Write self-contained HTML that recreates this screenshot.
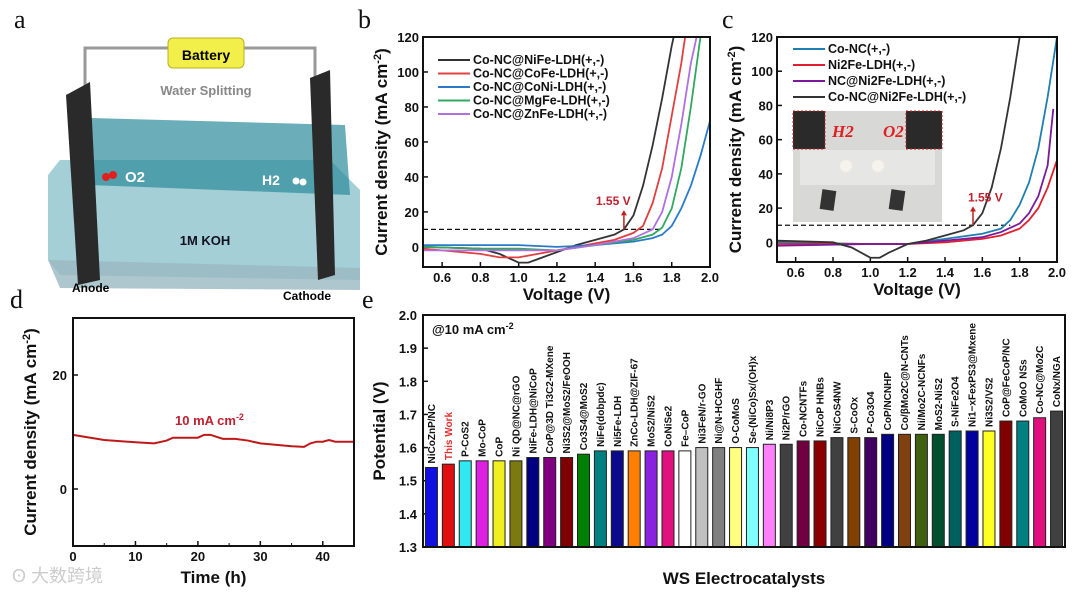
<!DOCTYPE html>
<html><head><meta charset="utf-8"><style>
body{margin:0;background:#fff;width:1080px;height:593px;overflow:hidden}
svg{display:block;font-family:"Liberation Sans",Arial,sans-serif}
.tk{font-size:13px;font-weight:bold;fill:#111}
.at{font-size:17px;font-weight:bold;fill:#111}
.pl{font-family:"Liberation Serif",serif;font-size:26px;fill:#111}
.lg{font-size:12.5px;font-weight:bold;fill:#111}
.bl{font-size:10px;font-weight:bold;fill:#111}
</style></head><body>
<svg id="fig" width="1080" height="593">
<g>
<text class="pl" x="14" y="28">a</text>
<polyline points="85,90 85,48 315,48 315,90" fill="none" stroke="#999" stroke-width="3"/>
<rect x="168" y="38" width="76" height="30" rx="5" fill="#f2ee4a" stroke="#b8b020"/>
<text x="206" y="60" text-anchor="middle" style="font-size:14px;font-weight:bold">Battery</text>
<text x="206" y="95" text-anchor="middle" style="font-size:13px;font-weight:bold;fill:#888">Water Splitting</text>
<polygon points="60,160 330,160 360,190 360,280 60,275 48,260 48,175" fill="#5aa8b4" opacity="0.55"/>
<polygon points="90,118 345,125 350,195 90,185" fill="#2c8a9a" opacity="0.7"/>
<polygon points="48,260 360,268 360,290 60,288" fill="#9ab8c0" opacity="0.8"/>
<polygon points="66,95 90,82 100,280 78,285" fill="#2a2a2a"/>
<polygon points="310,78 330,70 335,275 318,280" fill="#2a2a2a"/>
<circle cx="106" cy="177" r="4" fill="#e02020"/><circle cx="113" cy="175" r="4" fill="#e02020"/>
<text x="125" y="182" style="font-size:15px;font-weight:bold;fill:#fff">O2</text>
<text x="262" y="185" style="font-size:14px;font-weight:bold;fill:#fff">H2</text>
<circle cx="296" cy="181" r="3.5" fill="#fff"/><circle cx="303" cy="182" r="3.5" fill="#fff"/>
<text x="205" y="245" text-anchor="middle" style="font-size:13px;font-weight:bold;fill:#112">1M KOH</text>
<text x="72" y="292" style="font-size:12px;font-weight:bold">Anode</text>
<text x="283" y="300" style="font-size:12px;font-weight:bold">Cathode</text>
</g>
<text class="pl" x="10" y="308">d</text>
<text class="pl" x="358" y="28">b</text>
<text class="pl" x="722" y="28">c</text>
<text class="pl" x="362" y="308">e</text>
<g id="pb"></g><g id="pc"></g><g id="pd"></g><g id="pe"></g>
<text x="12" y="582" style="font-size:18px;fill:#ccc;font-family:'Liberation Sans','Noto Sans CJK SC',sans-serif">ʘ 大数跨境</text>
</svg>
<script>
const NS="http://www.w3.org/2000/svg";
const bNames=["Co-NC@NiFe-LDH(+,-)","Co-NC@CoFe-LDH(+,-)","Co-NC@CoNi-LDH(+,-)","Co-NC@MgFe-LDH(+,-)","Co-NC@ZnFe-LDH(+,-)"];
const bColors=["#333","#e04040","#2a7ac8","#30a860","#b070e0"];
const bV=[[0.5,0.8,0.9,1.0,1.05,1.1,1.2,1.3,1.4,1.5,1.55,1.6,1.65,1.7,1.75,1.8,1.81],
[0.5,0.8,0.9,1.0,1.1,1.2,1.3,1.4,1.5,1.6,1.65,1.7,1.75,1.8,1.85,1.87],
[0.5,0.8,1.0,1.2,1.4,1.6,1.7,1.75,1.8,1.85,1.9,1.95,2.0],
[0.5,0.8,1.0,1.2,1.4,1.6,1.7,1.75,1.8,1.85,1.9,1.95],
[0.5,0.8,1.0,1.2,1.4,1.6,1.7,1.75,1.8,1.85,1.9,1.93]];
const bJ=[[0,-1,-4,-9,-9,-7,-3,1,4,7,10,18,35,58,85,115,120],
[-1,-4,-6,-6,-4,-2,0,2,4,8,12,25,45,75,105,120],
[1,1,1,0,1,3,5,7,12,22,35,52,72],
[0,-1,-1,-2,1,4,7,11,22,45,80,120],
[-2,-2,-2,-2,1,5,10,20,40,70,105,120]];
const cNames=["Co-NC(+,-)","Ni2Fe-LDH(+,-)","NC@Ni2Fe-LDH(+,-)","Co-NC@Ni2Fe-LDH(+,-)"];
const cColors=["#1e7fb0","#e02030","#7a1a9a","#333"];
const cV=[[0.5,1.0,1.2,1.4,1.6,1.7,1.75,1.8,1.85,1.9,1.95,2.0],
[0.5,1.0,1.2,1.4,1.6,1.7,1.8,1.85,1.9,1.95,2.0],
[0.5,1.0,1.2,1.4,1.6,1.7,1.8,1.85,1.9,1.95,1.98],
[0.5,0.8,0.9,1.0,1.05,1.1,1.2,1.3,1.4,1.5,1.55,1.6,1.65,1.7,1.75,1.8]];
const cJ=[[0,-1,-1,2,5,8,13,22,35,55,85,120],
[-1,-1,-1,0,2,4,8,13,20,32,48],
[-2,-1,-1,1,3,6,11,17,27,45,78],
[1,0,-3,-9,-9,-6,-1,1,4,7,10,17,32,55,85,120]];
const vTicks=[0.6,0.8,1.0,1.2,1.4,1.6,1.8,2.0];
const jTicks=[0,20,40,60,80,100,120];
const dT=[0,5,10,13,15,16,20,21,22,24,26,28,30,35,37,38,39,40,41,42,45];
const dJ=[9.5,8.6,8.2,8.0,8.5,9.0,9.0,9.5,9.5,8.8,8.8,8.5,8.0,7.5,7.4,8.0,8.3,8.3,8.6,8.3,8.3];
const dXTicks=[0,10,20,30,40];
const dYTicks=[0,20];
const eNames=["NiCoZnP/NC","This Work","P-CoS2","Mo-CoP","CoP","Ni QD@NC@rGO","NiFe-LDH@NiCoP","CoP@3D Ti3C2-MXene","Ni3S2@MoS2/FeOOH","Co3S4@MoS2","NiFe(dobpdc)","Ni5Fe-LDH","ZnCo-LDH@ZIF-67","MoS2/NiS2","CoNiSe2","Fe–CoP","Ni3FeN/r-GO","Ni@N-HCGHF","O-CoMoS","Se-(NiCo)Sx/(OH)x","Ni/Ni8P3","Ni2P/rGO","Co-NCNTFs","NiCoP HNBs","NiCoS4NW","S-CoOx","P-Co3O4","CoP/NCNHP","Co/βMo2C@N-CNTs","Ni/Mo2C-NCNFs","MoS2-NiS2","S-NiFe2O4","Ni1−xFexPS3@Mxene","Ni3S2/VS2","CoP@FeCoP/NC","CoMoO NSs","Co-NC@Mo2C","CoNx/NGA"];
const eVals=[1.54,1.55,1.56,1.56,1.56,1.56,1.57,1.57,1.57,1.58,1.59,1.59,1.59,1.59,1.59,1.59,1.60,1.60,1.60,1.60,1.61,1.61,1.62,1.62,1.63,1.63,1.63,1.64,1.64,1.64,1.64,1.65,1.65,1.65,1.68,1.68,1.69,1.71];
const eColors=["#1010e0","#e01010","#30e8f0","#e020e0","#f0f020","#7a7a10","#000080","#800080","#800000","#008000","#008080","#0a0a8a","#ff8000","#8a20e0","#e0107f","#ffffff","#c0c0c0","#808080","#ffff80","#80ffff","#ff80ff","#404040","#700040","#8b0000","#404040","#804000","#400060","#000080","#804010","#406010","#005030","#006060","#0000a0","#ffff20","#800000","#008080","#e0107f","#404040"];
const eTicks=[1.3,1.4,1.5,1.6,1.7,1.8,1.9,2.0];

function el(p,tag,a,txt){const e=document.createElementNS(NS,tag);for(const k in a)e.setAttribute(k,a[k]);if(txt!==undefined)e.textContent=txt;p.appendChild(e);return e;}
function lin(d0,d1,r0,r1){return v=>r0+(v-d0)/(d1-d0)*(r1-r0);}
function frame(g,x0,x1,y0,y1){
  const r=el(g,'rect',{x:x0,y:y0,width:x1-x0,height:y1-y0,fill:'none',stroke:'#111','stroke-width':2});
  
  
}
function ivPanel(id,x0,x1,y0,y1,ymin,names,colors,V,J,legX,legY,legDy,arrowLabelX,inset){
  const g=document.getElementById(id);
  const X=lin(0.5,2.0,x0,x1),Y=lin(ymin,120,y1,y0);
  if(inset)inset(g);
  vTicks.forEach(t=>{el(g,'line',{x1:X(t),x2:X(t),y1:y1,y2:y1-5,stroke:'#111','stroke-width':1.5});
    const tx=el(g,'text',{x:X(t),y:y1+15,'text-anchor':'middle',class:'tk'},t.toFixed(1));
    
    });
  jTicks.forEach(t=>{el(g,'line',{x1:x0,x2:x0+5,y1:Y(t),y2:Y(t),stroke:'#111','stroke-width':1.5});
    const tx=el(g,'text',{x:x0-4,y:Y(t)+5,'text-anchor':'end',class:'tk'},t);
    
    });
  const cp=el(g,'clipPath',{id:id+'clip'});el(cp,'rect',{x:x0,y:y0,width:x1-x0,height:y1-y0});
  el(g,'line',{x1:x0,x2:X(1.75),y1:Y(10),y2:Y(10),stroke:'#111','stroke-dasharray':'5,3','stroke-width':1.2});
  names.forEach((n,i)=>{
    const p=el(g,'polyline',{points:V[i].map((v,k)=>X(v)+','+Y(J[i][k])).join(' '),fill:'none',stroke:colors[i],'stroke-width':1.8,'clip-path':'url(#'+id+'clip)'});
    
    
    const ly=legY+i*legDy;
    el(g,'line',{x1:legX,x2:legX+32,y1:ly-4,y2:ly-4,stroke:colors[i],'stroke-width':2});
    const lt=el(g,'text',{x:legX+35,y:ly,class:'lg'},n);
    
    
  });
  el(g,'line',{x1:X(1.55),x2:X(1.55),y1:Y(10),y2:Y(18),stroke:'#c02020','stroke-width':1.5});
  el(g,'polygon',{points:`${X(1.55)-3},${Y(18)} ${X(1.55)+3},${Y(18)} ${X(1.55)},${Y(21)}`,fill:'#c02020'});
  const a=el(g,'text',{x:arrowLabelX,y:Y(24),style:'font-size:12px;font-weight:bold;fill:#c02030'},'1.55 V');
  
  
  frame(g,x0,x1,y0,y1);
  const xt=el(g,'text',{x:(x0+x1)/2,y:y1+33,'text-anchor':'middle',class:'at'},'Voltage (V)');
  
  
  const yt=el(g,'text',{transform:`translate(${x0-36},${(y0+y1)/2}) rotate(-90)`,'text-anchor':'middle',class:'at'});
  yt.innerHTML='Current density (mA cm<tspan dy="-6" style="font-size:11px">-2</tspan><tspan dy="6">)</tspan>';
  
  
  return g;
}
function cInset(g){
  const ins=el(g,'g',{});
  
  
  el(ins,'rect',{x:793,y:111,width:149,height:111,fill:'#d8d8d6'});
  el(ins,'rect',{x:800,y:150,width:135,height:35,fill:'#e6e6e4'});
  el(ins,'circle',{cx:846,cy:166,r:6,fill:'#f4f4ec'});el(ins,'circle',{cx:878,cy:166,r:6,fill:'#f4f4ec'});
  el(ins,'rect',{x:793,y:111,width:32,height:38,fill:'#2a2a2a',stroke:'#d02020','stroke-dasharray':'2,2'});
  el(ins,'rect',{x:906,y:111,width:36,height:38,fill:'#2a2a2a',stroke:'#d02020','stroke-dasharray':'2,2'});
  el(ins,'text',{x:832,y:137,style:'font-family:Liberation Serif;font-style:italic;font-weight:bold;font-size:17px;fill:#e02020'},'H2');
  el(ins,'text',{x:883,y:137,style:'font-family:Liberation Serif;font-style:italic;font-weight:bold;font-size:17px;fill:#e02020'},'O2');
  el(ins,'rect',{x:821,y:190,width:14,height:20,fill:'#333',transform:'rotate(8 828 200)'});
  el(ins,'rect',{x:890,y:190,width:14,height:20,fill:'#333',transform:'rotate(8 897 200)'});
}
ivPanel('pb',423,710,37,267,-11.5,bNames,bColors,bV,bJ,438,64,13.5,(423+(1.55-0.5)/1.5*287)-28,null);
ivPanel('pc',777,1057,37,262,-11.5,cNames,cColors,cV,cJ,793,53,16,(777+(1.55-0.5)/1.5*280)-5,cInset);
(function(){
  const g=document.getElementById('pd');
  const x0=73,x1=354,y0=318,y1=546;
  const X=lin(0,45,x0,x1),Y=lin(-10,30,y1,y0);
  dXTicks.forEach(t=>{el(g,'line',{x1:X(t),x2:X(t),y1:y1,y2:y1-5,stroke:'#111','stroke-width':1.5});
    const tx=el(g,'text',{x:X(t),y:y1+15,'text-anchor':'middle',class:'tk'},t);
    
    });
  [5,15,25,35].forEach(t=>el(g,'line',{x1:X(t),x2:X(t),y1:y1,y2:y1-3,stroke:'#111'}));
  dYTicks.forEach(t=>{el(g,'line',{x1:x0,x2:x0+5,y1:Y(t),y2:Y(t),stroke:'#111','stroke-width':1.5});
    const tx=el(g,'text',{x:x0-6,y:Y(t)+5,'text-anchor':'end',class:'tk'},t);
    
    });
  const p=el(g,'polyline',{points:dT.map((t,i)=>X(t)+','+Y(dJ[i])).join(' '),fill:'none',stroke:'#c01818','stroke-width':2});
  
  
  const a=el(g,'text',{x:175,y:425,class:'tk',style:'fill:#c02030'});
  a.innerHTML='10 mA cm<tspan dy="-5" style="font-size:9px">-2</tspan>';
  
  
  frame(g,x0,x1,y0,y1);
  const xt=el(g,'text',{x:(x0+x1)/2,y:y1+37,'text-anchor':'middle',class:'at'},'Time (h)');
  
  
  const yt=el(g,'text',{transform:`translate(36,${(y0+y1)/2}) rotate(-90)`,'text-anchor':'middle',class:'at'});
  yt.innerHTML='Current density (mA cm<tspan dy="-6" style="font-size:11px">-2</tspan><tspan dy="6">)</tspan>';
  
  
})();
(function(){
  const g=document.getElementById('pe');
  const x0=423,x1=1065,y0=315,y1=547;
  const Y=lin(1.3,2.0,y1,y0);
  const pitch=(x1-x0)/eNames.length;
  const bw=12;
  eTicks.forEach(t=>{el(g,'line',{x1:x0,x2:x0+5,y1:Y(t),y2:Y(t),stroke:'#111','stroke-width':1.5});
    const tx=el(g,'text',{x:x0-6,y:Y(t)+5,'text-anchor':'end',class:'tk'},t.toFixed(1));
    
    });
  eNames.forEach((n,i)=>{
    const cx=x0+pitch*(i+0.5);
    const r=el(g,'rect',{x:cx-bw/2,y:Y(eVals[i]),width:bw,height:y1-Y(eVals[i]),fill:eColors[i],stroke:'#222','stroke-width':1});
    
    
    const t=el(g,'text',{transform:`translate(${cx+3.5},${Y(eVals[i])-4}) rotate(-90)`,class:'bl',style:i==1?'fill:#e03030':''},n);
    
    
  });
  const at=el(g,'text',{x:432,y:334,class:'tk'});
  at.innerHTML='@10 mA cm<tspan dy="-5" style="font-size:9px">-2</tspan>';
  
  
  frame(g,x0,x1,y0,y1);
  const xt=el(g,'text',{x:(x0+x1)/2,y:584,'text-anchor':'middle',class:'at'},'WS Electrocatalysts');
  
  
  const yt=el(g,'text',{transform:`translate(385,${(y0+y1)/2}) rotate(-90)`,'text-anchor':'middle',class:'at'},'Potential (V)');
  
  
})();
</script>
</body></html>
